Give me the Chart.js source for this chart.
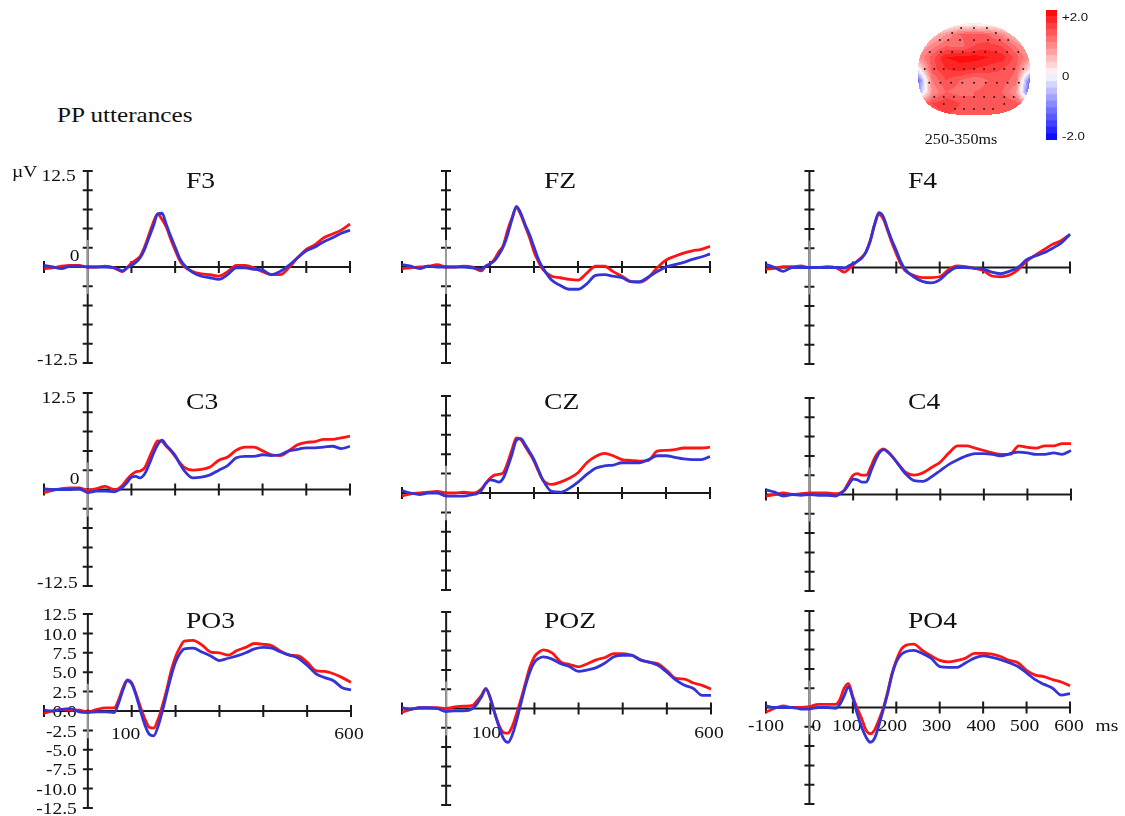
<!DOCTYPE html>
<html>
<head>
<meta charset="utf-8">
<title>PP utterances ERP</title>
<script src="https://cdn.jsdelivr.net/npm/chart.js@4.4.1/dist/chart.umd.min.js"></script>
<style>
  html, body { margin: 0; padding: 0; background: #fff; }
  #page { position: relative; width: 1125px; height: 816px; overflow: hidden; background: #fff; }
  #page canvas { position: absolute; }
  #heading {
    position: absolute; left: 57px; top: 105px;
    font: 21px "Liberation Serif", "Times New Roman", serif; line-height: 21px;
    transform: scaleX(1.2); transform-origin: 0 0; white-space: nowrap; color: #111;
  }
</style>
</head>
<body>
<div id="page">
  <div id="heading">PP utterances</div>
</div>
<script>
// sample times (ms), denser around the early peaks
const times = [-100,-80,-60,-40,-20,0,20,40,60,
  70,80,90,100,110,120,130,140,150,160,170,180,190,200,210,220,
  240,260,280,300,320,340,360,380,400,420,440,460,480,500,520,540,560,580,600];

const xTicks = [-100,0,100,200,300,400,500,600];
const yTicks = [-12.5,-10,-7.5,-5,-2.5,0,2.5,5,7.5,10,12.5];

// µV, red and blue condition per electrode
const f3Red  = [-0.2,-0.1,0.1,0.2,0.2,0,0,0.1,-0.1, -0.4,-0.6,-0.1,0.5,0.9,1.4,2.6,4.2,5.8,6.9,6.2,5.2,3.6,2.2,0.9,0.1, -0.6,-0.9,-1.0,-1.2,-0.6,0.2,0.2,-0.1,-0.6,-1.0,-1.0,-0.1,1.2,2.3,2.9,3.8,4.3,4.8,5.6];
const f3Blue = [0.2,0,-0.2,0.1,0.1,0,0,0,-0.1, -0.3,-0.5,-0.1,0.2,0.6,1.2,2.3,3.8,5.3,6.9,7.0,5.5,4.0,2.6,1.2,0.3, -0.7,-1.2,-1.4,-1.6,-1.0,-0.1,-0.1,-0.3,-0.4,-1.0,-0.6,0.2,1.2,2.1,2.6,3.3,3.8,4.4,4.8];
const fzRed  = [-0.2,-0.1,0,0.1,0.3,0,0,0.1,0, -0.3,-0.5,0.1,0.4,1.0,2.0,2.8,4.8,6.4,7.7,6.8,5.3,3.8,2.0,0.7,-0.3, -1.2,-1.4,-1.6,-1.7,-0.8,0.1,0.1,-0.6,-1.2,-1.9,-2.0,-1.4,-0.1,0.9,1.4,1.8,2.1,2.3,2.7];
const fzBlue = [0.3,0.1,-0.2,0.1,0,0,0,0,-0.1, -0.2,-0.3,0.1,0.4,0.8,1.6,2.6,4.2,6.2,7.9,7.0,5.5,4.2,2.6,1.0,-0.1, -1.7,-2.4,-2.9,-2.9,-2.2,-1.1,-1.0,-1.2,-1.4,-1.9,-1.9,-1.3,-0.6,0,0.3,0.6,1.0,1.3,1.7];
const f4Red  = [-0.2,-0.1,0.1,0.1,0.2,0,0,0.1,0, -0.3,-0.6,-0.2,0.3,0.8,1.3,2.0,3.5,5.5,6.9,6.3,4.8,3.2,1.8,0.5,-0.4, -1.0,-1.3,-1.3,-1.2,-0.3,0.2,0.1,-0.1,-0.4,-1.1,-1.2,-1.0,-0.3,0.8,1.6,2.3,3.0,3.5,4.3];
const f4Blue = [0.4,0,-0.5,0,0,0,0,0,0, 0,-0.1,0.2,0.5,0.8,1.2,2.0,3.4,5.6,7.1,6.6,5.0,3.5,2.2,0.8,-0.2, -1.2,-1.8,-2.0,-1.6,-0.6,0,0,-0.1,-0.2,-0.6,-0.8,-0.5,0,1.0,1.5,1.9,2.5,3.2,4.3];
const c3Red  = [-0.4,-0.1,0.1,0.2,0.2,-0.1,0.1,0.4,0, 0.1,0.6,1.3,1.9,2.3,2.4,2.8,4.0,5.3,6.3,6.2,5.6,5.0,4.3,3.5,2.9, 2.5,2.6,2.9,3.8,4.2,5.1,5.5,5.5,5.0,4.5,4.4,5.0,5.8,6.1,6.2,6.5,6.5,6.7,6.9];
const c3Blue = [0.1,0,0,0,0.1,-0.4,-0.2,-0.2,-0.3, -0.1,0.3,0.9,1.6,1.7,1.5,2.0,3.2,4.6,5.8,6.4,5.7,5.1,4.4,3.4,2.5, 1.5,1.6,1.9,2.5,3.1,4.1,4.3,4.3,4.5,4.4,4.5,5.0,5.2,5.4,5.4,5.5,5.6,5.3,5.6];
const czRed  = [-0.4,-0.1,0,0.1,0.2,0,0,0.1,0, 0.1,0.5,1.2,1.9,2.3,2.4,2.6,3.9,5.6,7.1,6.9,6.0,5.1,4.1,2.8,1.7, 1.1,1.4,1.9,2.6,3.9,4.7,5.1,4.8,4.3,4.2,4.1,4.2,5.4,5.5,5.6,5.8,5.8,5.8,5.9];
const czBlue = [0.3,0,-0.2,0,0,-0.4,-0.4,-0.4,-0.2, -0.1,0.3,1.2,1.7,1.6,1.4,1.9,3.3,5.0,6.8,7.0,6.2,5.3,4.3,3.0,1.7, 0.2,0.1,0.6,1.4,2.4,3.2,3.5,3.6,3.9,3.9,3.9,4.3,4.8,4.8,4.6,4.4,4.3,4.3,4.7];
const c4Red  = [-0.2,0,0.2,0,0.1,0.2,0.2,0.2,0.1, 0.2,0.6,1.6,2.5,2.7,2.5,2.5,3.5,4.8,5.6,5.9,5.5,4.9,4.2,3.5,2.9, 2.5,2.8,3.5,4.2,5.4,6.3,6.3,6.0,5.7,5.4,5.2,5.2,6.3,6.1,6.0,6.3,6.3,6.6,6.6];
const c4Blue = [0.6,0.3,-0.2,0,-0.1,0,-0.1,-0.1,-0.2, 0.1,0.5,1.3,2.0,1.9,1.6,1.6,2.9,4.3,5.4,5.8,5.5,4.9,4.2,3.4,2.7, 1.8,1.7,2.3,3.1,3.9,4.5,5.0,5.3,5.3,5.2,5.0,5.3,5.5,5.4,5.2,5.2,5.4,5.2,5.7];
const po3Red  = [-0.3,0,0.2,0.1,0.1,-0.1,0.2,0.4,0.4, 1.4,3.0,4.0,3.6,2.2,0.5,-1.0,-2.1,-2.2,-1.1,0.7,2.8,5.2,7.0,8.2,9.0, 9.1,8.5,7.6,7.5,7.2,7.8,8.2,8.7,8.6,8.4,7.7,7.2,7.1,6.3,5.2,5.1,4.8,4.3,3.7];
const po3Blue = [0.1,0,0.2,0.3,-0.1,-0.2,-0.1,-0.1,-0.2, 1.0,2.7,3.9,3.5,2.0,0,-1.8,-3.0,-3.2,-2.0,0,2.3,4.5,6.3,7.4,8.0, 8.1,7.6,7.1,6.5,6.8,7.1,7.5,8.0,8.2,8.1,7.6,7.2,6.8,5.9,4.8,4.3,3.9,3.0,2.7];
const pozRed  = [-0.5,-0.1,0.1,0.1,0.1,0,0.2,0.3,0.4, 1.0,1.7,2.6,1.3,-0.6,-2.2,-3.1,-3.2,-2.3,-0.6,1.3,3.4,5.4,6.7,7.3,7.6, 7.2,6.0,5.7,5.4,5.8,6.3,6.6,7.1,7.1,6.9,6.3,6.0,5.8,4.9,3.9,3.8,3.3,3.0,2.5];
const pozBlue = [0.1,-0.1,0.1,0.1,0,-0.4,-0.3,-0.3,0, 0.6,1.5,2.5,1.4,-0.6,-2.4,-3.9,-4.4,-3.4,-1.5,0.8,3.0,4.8,6.0,6.5,6.7, 6.4,5.8,5.4,4.8,5.0,5.3,5.9,6.7,6.9,6.9,6.3,6.0,5.6,4.7,3.7,3.0,2.6,1.7,1.7];
const po4Red  = [-0.6,-0.1,0.2,0,0,0.1,0.4,0.4,0.4, 1.0,2.5,3.1,1.4,-0.1,-1.4,-2.9,-3.4,-2.9,-1.6,-0.1,2.0,4.4,6.1,7.4,8.0, 8.2,7.4,6.7,6.1,5.9,6.1,6.4,7.0,7.0,6.9,6.6,6.1,5.8,4.8,4.2,4.0,3.6,3.3,2.8];
const po4Blue = [0.2,0,0,0,-0.2,-0.2,0,0,-0.1, 0.4,1.5,2.7,1.2,-0.8,-2.5,-3.8,-4.5,-4.0,-2.3,-0.3,1.8,4.2,5.9,6.8,7.2, 7.4,7.0,6.4,5.3,5.2,5.2,5.8,6.4,6.7,6.5,6.2,5.8,5.3,4.5,3.6,3.0,2.5,1.6,1.8];

// scalp map 250-350 ms: difference values on a coarse grid (head coords, top row first)
const headCols = [-1,-0.75,-0.5,-0.25,0,0.25,0.5,0.75,1];
const headRows = [1,0.75,0.5,0.25,0,-0.25,-0.5,-0.75,-1];
const headValues = [
  [-0.2,-0.2,-0.2,-0.1,-0.1,-0.1,-0.2,-0.2,-0.2],
  [0.1,0.4,0.8,1.2,1.3,1.2,0.9,0.4,0.1],
  [0.5,0.9,1.2,1.1,1.4,1.5,1.4,1.0,0.5],
  [0.8,1.3,1.8,1.9,1.9,1.8,1.7,1.3,0.8],
  [0.0,1.3,1.6,1.7,1.6,1.5,1.4,1.2,0.2],
  [-1.2,1.0,1.4,1.2,1.0,1.2,1.3,1.1,-1.2],
  [-0.8,0.8,1.2,1.1,1.2,1.3,1.2,0.8,-1.4],
  [1.0,1.4,1.6,1.4,1.2,1.3,1.4,1.3,0.8],
  [1.0,1.2,1.4,1.3,1.2,1.2,1.3,1.2,1.0]
];
const elecX = [-0.23,0,0.23, -0.39,0.39, -0.61,-0.46,-0.25,0,0.25,0.46,0.61,
  -0.79,-0.59,-0.39,-0.2,0,0.2,0.39,0.59,0.79,
  -0.88,-0.71,-0.54,-0.36,-0.18,0,0.18,0.36,0.54,0.71,0.88,
  -0.8,-0.6,-0.41,-0.21,0,0.21,0.41,0.6,0.8,
  -0.71,-0.54,-0.36,-0.18,0,0.18,0.36,0.54,0.71,
  -0.54,0.54, -0.34,-0.18,0,0.18,0.34];
const elecY = [0.89,0.89,0.89, 0.78,0.78, 0.63,0.63,0.63,0.63,0.63,0.63,0.63,
  0.37,0.37,0.37,0.37,0.37,0.37,0.37,0.37,0.37,
  0,0,0,0,0,0,0,0,0,0,0,
  -0.3,-0.3,-0.3,-0.3,-0.3,-0.3,-0.3,-0.3,-0.3,
  -0.61,-0.61,-0.61,-0.61,-0.61,-0.61,-0.61,-0.61,-0.61,
  -0.76,-0.76, -0.87,-0.87,-0.87,-0.87,-0.87];

const cbarLevels = [-2,-1.8,-1.6,-1.4,-1.2,-1,-0.8,-0.6,-0.4,-0.2,0,0.2,0.4,0.6,0.8,1,1.2,1.4,1.6,1.8,2];
const cbarLabels = ['-2.0','0','+2.0'];

const RED = '#ff1414';
const BLUE = '#3434d6';
const SERIF = '"Liberation Serif", "Times New Roman", serif';
const SANS = '"Liberation Sans", Arial, sans-serif';
const STRETCH = 1.22;

const page = document.getElementById('page');

function wideText(ctx, str, x, y, align, sx) {
  ctx.save();
  ctx.translate(x, y);
  ctx.scale(sx, 1);
  ctx.textAlign = align;
  ctx.fillText(str, 0, 0);
  ctx.restore();
}

function levelColor(v) {
  const bin = Math.max(0, Math.min(19, Math.floor((v + 2) / 0.2)));
  const mid = -2 + (bin + 0.5) * 0.2;
  const c = Math.round(250 * (1 - Math.abs(mid) / 2));
  return mid > 0 ? `rgb(255,${c},${c})` : `rgb(${c},${c},255)`;
}

// crossing axes with tick marks, labels and the electrode name
const erpAxes = {
  id: 'erpAxes',
  beforeDatasetsDraw(chart, args, o) {
    const { ctx } = chart;
    const xs = chart.scales.x, ys = chart.scales.y;
    const left = xs.getPixelForValue(xTicks[0]);
    const right = xs.getPixelForValue(xTicks[xTicks.length - 1]);
    const x0 = xs.getPixelForValue(0);
    const y0 = ys.getPixelForValue(0);
    const top = ys.getPixelForValue(yTicks[yTicks.length - 1]);
    const bottom = ys.getPixelForValue(yTicks[0]);

    ctx.save();
    ctx.lineWidth = 2;
    ctx.strokeStyle = '#1a1a1a';
    ctx.beginPath();
    ctx.moveTo(left, y0); ctx.lineTo(right, y0);
    ctx.moveTo(x0, top); ctx.lineTo(x0, bottom);
    xTicks.forEach(t => {
      if (t === 0) return;
      const px = xs.getPixelForValue(t);
      ctx.moveTo(px, y0 - 6); ctx.lineTo(px, y0 + 6);
    });
    yTicks.forEach(v => {
      if (v === 0) return;
      const py = ys.getPixelForValue(v);
      ctx.moveTo(x0 - 5, py); ctx.lineTo(x0 + 5, py);
    });
    ctx.stroke();

    // the vertical axis is grey near the baseline
    ctx.strokeStyle = '#9a9a9a';
    ctx.beginPath();
    ctx.moveTo(x0, ys.getPixelForValue(3.5)); ctx.lineTo(x0, y0 - 1.5);
    ctx.moveTo(x0, y0 + 1.5); ctx.lineTo(x0, ys.getPixelForValue(-3.5));
    ctx.stroke();

    ctx.fillStyle = '#111';
    ctx.font = `16px ${SERIF}`;
    ctx.textBaseline = 'middle';
    if (o.yLabels === 'ends') {
      wideText(ctx, '12.5', x0 - 12, top + 6, 'right', STRETCH);
      wideText(ctx, '-12.5', x0 - 10, bottom - 2, 'right', STRETCH);
      wideText(ctx, '0', x0 - 13, y0 - 10, 'center', STRETCH);
    } else if (o.yLabels === 'all') {
      yTicks.forEach(v => wideText(ctx, v.toFixed(1), x0 - 11, ys.getPixelForValue(v) + 2, 'right', STRETCH));
    }
    if (o.unitY) wideText(ctx, 'µV', left - 32, top + 2, 'left', STRETCH);

    ctx.textBaseline = 'alphabetic';
    if (o.xLabels) {
      o.xLabels.forEach(([v, dx]) =>
        wideText(ctx, String(v), xs.getPixelForValue(v) + dx, y0 + o.xLabelDy, 'center', STRETCH));
    }
    if (o.unitX) wideText(ctx, 'ms', right + 37, y0 + o.xLabelDy, 'center', STRETCH);

    ctx.font = `23px ${SERIF}`;
    wideText(ctx, o.title, left + 142, top + (o.titleY - o.yT), 'left', 1.2);
    ctx.restore();
  }
};

const panels = [
  { title: 'F3',  red: f3Red,  blue: f3Blue,  x0: 44,  x1: 350,  yT: 171, yB: 363, titleY: 188, yLabels: 'ends', unitY: true },
  { title: 'FZ',  red: fzRed,  blue: fzBlue,  x0: 402, x1: 710,  yT: 171, yB: 363, titleY: 188 },
  { title: 'F4',  red: f4Red,  blue: f4Blue,  x0: 766, x1: 1070, yT: 171, yB: 364, titleY: 188 },
  { title: 'C3',  red: c3Red,  blue: c3Blue,  x0: 44,  x1: 350,  yT: 393, yB: 586, titleY: 409, yLabels: 'ends' },
  { title: 'CZ',  red: czRed,  blue: czBlue,  x0: 402, x1: 710,  yT: 396, yB: 590, titleY: 409 },
  { title: 'C4',  red: c4Red,  blue: c4Blue,  x0: 766, x1: 1071, yT: 398, yB: 591, titleY: 409 },
  { title: 'PO3', red: po3Red, blue: po3Blue, x0: 44,  x1: 351,  yT: 614, yB: 808, titleY: 628, yLabels: 'all',
    xLabels: [[100, -6], [600, -2]], xLabelDy: 28 },
  { title: 'POZ', red: pozRed, blue: pozBlue, x0: 402, x1: 711,  yT: 612, yB: 805, titleY: 628,
    xLabels: [[100, -4], [600, -2]], xLabelDy: 29 },
  { title: 'PO4', red: po4Red, blue: po4Blue, x0: 766, x1: 1070, yT: 611, yB: 804, titleY: 628,
    xLabels: [[-100, 0], [0, 7], [100, -6], [200, -4], [300, -3], [400, -2], [500, -2], [600, -1]], xLabelDy: 23, unitX: true }
];

const toPoints = vals => vals.map((v, i) => ({ x: times[i], y: v }));

panels.forEach(p => {
  const padL = 44, padR = 56, padT = 22, padB = 14;
  const cv = document.createElement('canvas');
  cv.width = p.x1 - p.x0 + padL + padR;
  cv.height = p.yB - p.yT + padT + padB;
  cv.style.left = (p.x0 - padL) + 'px';
  cv.style.top = (p.yT - padT) + 'px';
  page.appendChild(cv);

  new Chart(cv, {
    type: 'line',
    data: {
      datasets: [
        { label: 'blue', data: toPoints(p.blue), borderColor: BLUE, order: 1, clip: false },
        { label: 'red', data: toPoints(p.red), borderColor: RED, order: 2, clip: false }
      ]
    },
    options: {
      responsive: false,
      animation: false,
      events: [],
      layout: { padding: { left: padL, right: padR, top: padT, bottom: padB } },
      elements: {
        point: { radius: 0 },
        line: { borderWidth: 2.8, cubicInterpolationMode: 'monotone', fill: false }
      },
      scales: {
        x: { type: 'linear', min: -100, max: 600, display: false },
        y: { min: -12.5, max: 12.5, display: false }
      },
      plugins: {
        legend: { display: false },
        tooltip: { enabled: false },
        erpAxes: p
      }
    },
    plugins: [erpAxes]
  });
});

// ---- scalp map ----
function insideHead(hx, hy) {
  if (hy >= 0) return hx * hx + hy * hy <= 1;
  return Math.abs(hx) ** 3 + Math.abs(hy) ** 3 <= 1;
}

function sampleHead(hx, hy) {
  const fx = Math.min(Math.max((hx - headCols[0]) / (headCols[1] - headCols[0]), 0), headCols.length - 1.001);
  const fy = Math.min(Math.max((headRows[0] - hy) / (headRows[0] - headRows[1]), 0), headRows.length - 1.001);
  const i = Math.floor(fx), j = Math.floor(fy), u = fx - i, w = fy - j;
  const g = headValues;
  return (g[j][i] * (1 - u) + g[j][i + 1] * u) * (1 - w) + (g[j + 1][i] * (1 - u) + g[j + 1][i + 1] * u) * w;
}

const topoPaint = {
  id: 'topoPaint',
  beforeDatasetsDraw(chart) {
    const { ctx, chartArea: a } = chart;
    const xs = chart.scales.x, ys = chart.scales.y;
    ctx.save();
    for (let py = Math.floor(a.top); py < Math.ceil(a.bottom); py++) {
      for (let px = Math.floor(a.left); px < Math.ceil(a.right); px++) {
        const hx = xs.getValueForPixel(px + 0.5), hy = ys.getValueForPixel(py + 0.5);
        if (!insideHead(hx, hy)) continue;
        ctx.fillStyle = levelColor(sampleHead(hx, hy));
        ctx.fillRect(px, py, 1, 1);
      }
    }
    ctx.restore();
  },
  afterDraw(chart) {
    const { ctx } = chart;
    const xs = chart.scales.x, ys = chart.scales.y;
    ctx.save();
    ctx.fillStyle = '#111';
    ctx.font = `14px ${SERIF}`;
    ctx.textBaseline = 'alphabetic';
    wideText(ctx, '250-350ms', xs.getPixelForValue(0) - 13, ys.getPixelForValue(-1) + 29, 'center', 1.15);
    ctx.restore();
  }
};

(function () {
  const cv = document.createElement('canvas');
  cv.width = 150; cv.height = 145;
  cv.style.left = '900px'; cv.style.top = '8px';
  page.appendChild(cv);
  new Chart(cv, {
    type: 'scatter',
    data: {
      datasets: [{
        data: elecX.map((x, i) => ({ x, y: elecY[i] })),
        pointRadius: 1, pointBorderWidth: 0, backgroundColor: '#222', clip: false
      }]
    },
    options: {
      responsive: false, animation: false, events: [],
      layout: { padding: { left: 18, right: 20, top: 15, bottom: 38 } },
      scales: {
        x: { type: 'linear', min: -1, max: 1, display: false },
        y: { min: -1, max: 1, display: false }
      },
      plugins: { legend: { display: false }, tooltip: { enabled: false } }
    },
    plugins: [topoPaint]
  });
})();

// ---- colour bar ----
const cbarText = {
  id: 'cbarText',
  afterDraw(chart) {
    const { ctx, chartArea: a } = chart;
    const ys = chart.scales.y;
    const offs = [-3, 2, 8];
    ctx.save();
    ctx.fillStyle = '#111';
    ctx.font = `11px ${SANS}`;
    ctx.textBaseline = 'middle';
    [-2, 0, 2].forEach((v, k) => wideText(ctx, cbarLabels[k], a.right + 5, ys.getPixelForValue(v) + offs[k], 'left', 1.2));
    ctx.restore();
  }
};

(function () {
  const cv = document.createElement('canvas');
  cv.width = 85; cv.height = 145;
  cv.style.left = '1040px'; cv.style.top = '4px';
  page.appendChild(cv);
  const sets = [];
  for (let i = 0; i < cbarLevels.length - 1; i++) {
    sets.push({
      data: [[cbarLevels[i], cbarLevels[i + 1]]],
      backgroundColor: levelColor((cbarLevels[i] + cbarLevels[i + 1]) / 2),
      borderWidth: 0, barPercentage: 1, categoryPercentage: 1, grouped: false
    });
  }
  new Chart(cv, {
    type: 'bar',
    data: { labels: [''], datasets: sets },
    options: {
      responsive: false, animation: false, events: [],
      layout: { padding: { left: 6, right: 68, top: 6, bottom: 9 } },
      scales: {
        x: { display: false },
        y: { min: -2, max: 2, display: false }
      },
      plugins: { legend: { display: false }, tooltip: { enabled: false } }
    },
    plugins: [cbarText]
  });
})();
</script>
</body>
</html>
